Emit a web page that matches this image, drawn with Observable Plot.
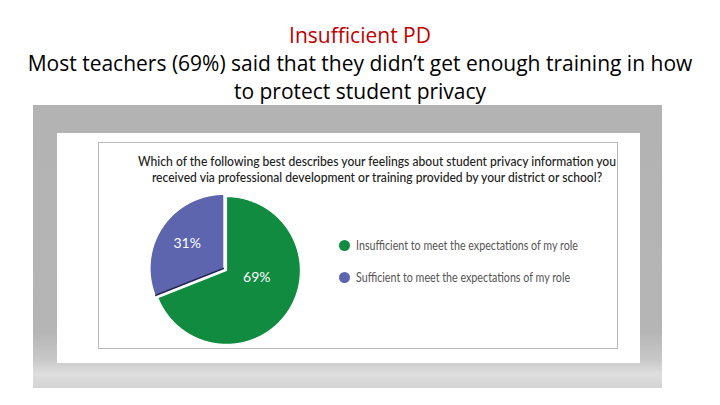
<!DOCTYPE html>
<html>
<head>
<meta charset="utf-8">
<script src="https://cdn.jsdelivr.net/npm/d3@7"></script>
<script src="https://cdn.jsdelivr.net/npm/@observablehq/plot@0.6"></script>
<style>
  html, body { margin: 0; padding: 0; background: #fff; }
  body { width: 720px; height: 405px; position: relative; overflow: hidden; font-family: "Open Sans", sans-serif; }
  #head { position: absolute; left: 0; top: 21px; width: 720px; text-align: center; line-height: 28px; }
  #title { color: #c00000; font-size: 21px; }
  .sub { color: #000; font-size: 21px; white-space: nowrap; }
  #frame { position: absolute; left: 33px; top: 105px; width: 629px; height: 283px;
    background: linear-gradient(to bottom, #b3b3b3 0%, #b5b5b5 80%, #c8c8c8 90%, #dedede 95%, #d4d4d4 100%); }
  #card { position: absolute; left: 24px; top: 28px; width: 583px; height: 230px; background: #fff; }
  #box { position: absolute; left: 41px; top: 9px; width: 520px; height: 207px; border: 1px solid #b9b9bd; box-sizing: border-box; }
  #question { position: absolute; left: 0; top: 10px; width: 556px; text-align: center; font-family: Lato, sans-serif; font-size: 13.8px; line-height: 16px; color: #222; white-space: nowrap; transform: scaleX(0.877); transform-origin: 50% 50%; font-weight: 500; }
  #pie { position: absolute; left: 141px; top: 185px; }
  #legend { position: absolute; left: 339px; top: 237px; font-family: Lato, sans-serif; font-size: 12.6px; color: #555; white-space: nowrap; }
  .row { display: flex; align-items: center; height: 16px; margin-bottom: 16px; }
  .row span { display: inline-block; transform: scaleX(0.85); transform-origin: 0 50%; }
  .sw { width: 11px; height: 11px; border-radius: 50%; margin-right: 6px; }
</style>
</head>
<body>
<div id="head">
  <div id="title"></div>
  <div class="sub" id="sub1"></div>
  <div class="sub" id="sub2"></div>
</div>
<div id="frame">
  <div id="card">
    <div id="box"><div id="question"></div></div>
  </div>
</div>
<div id="pie"></div>
<div id="legend"></div>
<script>
// ---- data ----
const titleText = "Insufficient PD";
const subtitleLines = ["Most teachers (69%) said that they didn\u2019t get enough training in how", "to protect student privacy"];
const questionLines = ["Which of the following best describes your feelings about student privacy information you", "received via professional development or training provided by your district or school?"];
const categories = ["Insufficient to meet the expectations of my role", "Sufficient to meet the expectations of my role"];
const shares = [69, 31];
const sliceLabels = ["69%", "31%"];
const colors = ["#118b40", "#5c65ad"];

// ---- text ----
document.getElementById("title").textContent = titleText;
document.getElementById("sub1").textContent = subtitleLines[0];
document.getElementById("sub2").textContent = subtitleLines[1];
document.getElementById("question").innerHTML = questionLines.map(s => `<div>${s}</div>`).join("");

// ---- pie geometry from data ----
const pie = d3.pie().sort(null).value(d => d.share);
const table = categories.map((c, i) => ({category: c, share: shares[i], label: sliceLabels[i]}));
const arcs = pie(table);
const R = 1;
const explode = {[categories[1]]: [-0.035, 0.03]};
const pts = [];
const labelPts = [];
const edges = [];
arcs.forEach(a => {
  const c = a.data.category;
  const [ox, oy] = explode[c] || [0, 0];
  pts.push({category: c, x: ox, y: oy});
  const n = Math.max(8, Math.ceil((a.endAngle - a.startAngle) / 0.01));
  for (let k = 0; k <= n; k++) {
    const t = a.startAngle + (a.endAngle - a.startAngle) * k / n;
    pts.push({category: c, x: ox + R * Math.sin(t), y: oy + R * Math.cos(t)});
  }
  const mid = (a.startAngle + a.endAngle) / 2;
  const isBig = a.data.share > 50;
  const lr = isBig ? 0.42 : 0.6;
  const lm = isBig ? mid - 0.38 : mid;
  labelPts.push({label: a.data.label, x: ox + lr * Math.sin(lm), y: oy + lr * Math.cos(lm)});
  if (!isBig) edges.push({x1: ox, y1: oy, x2: ox + R * Math.sin(a.startAngle), y2: oy + R * Math.cos(a.startAngle)});
});

const D = 1.15;
const chart = Plot.plot({
  width: 170, height: 170, margin: 0,
  x: {domain: [-D, D], axis: null},
  y: {domain: [-D, D], axis: null},
  color: {domain: categories, range: colors},
  marks: [
    Plot.line(pts, {x: "x", y: "y", z: "category", fill: "category", stroke: "white", strokeWidth: 1.2, curve: "linear-closed"}),
    Plot.link(edges, {x1: "x1", y1: "y1", x2: "x2", y2: "y2", stroke: "#1d1f55", strokeWidth: 1.6}),
    Plot.text(labelPts, {x: "x", y: "y", text: "label", fill: "white", fontSize: 14, fontFamily: "Lato, sans-serif"})
  ]
});
document.getElementById("pie").appendChild(chart);

// ---- legend ----
const leg = document.getElementById("legend");
categories.forEach((c, i) => {
  const row = document.createElement("div");
  row.className = "row";
  row.innerHTML = `<div class="sw" style="background:${colors[i]}"></div><span>${c}</span>`;
  leg.appendChild(row);
});
</script>
</body>
</html>
